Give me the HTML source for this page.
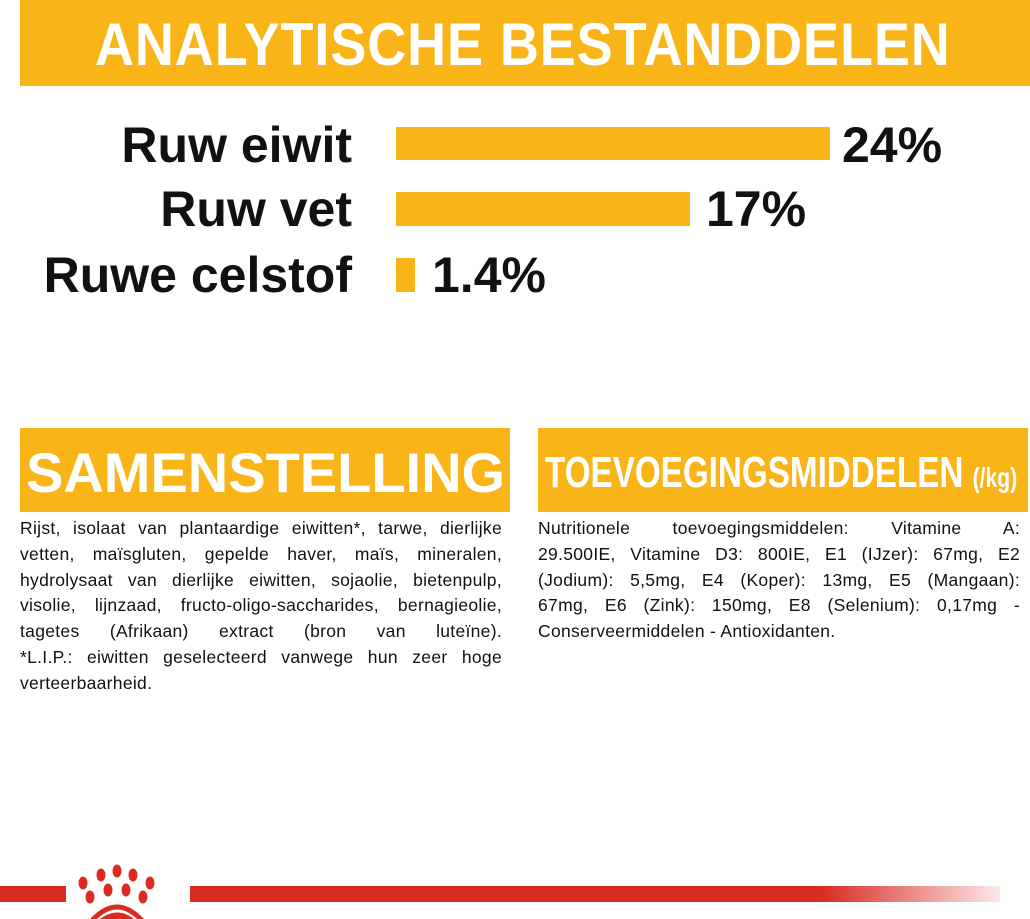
<!DOCTYPE html>
<html><head><meta charset="utf-8"><style>
body{margin:0;width:1030px;height:919px;background:#fff;position:relative;overflow:hidden;font-family:"Liberation Sans",sans-serif}
.a{position:absolute}
.y{background:#f9b418}
.h{color:#fff;font-weight:bold;white-space:nowrap}
.l{font-weight:bold;font-size:50px;color:#111;text-align:right;width:352px;left:0;line-height:50px}
.p{font-weight:bold;font-size:50px;color:#111;line-height:50px}
.t{font-size:17.5px;line-height:25.8px;color:#111;letter-spacing:0.3px}
.t div{text-align:justify;text-align-last:justify;white-space:nowrap}
.t div.e{text-align-last:left}
</style></head><body>
<div class="a y" style="left:20px;top:0;width:1010px;height:86px"></div>
<div class="a h" style="left:95px;top:12px;font-size:60px;line-height:66px;letter-spacing:1px;transform:scaleX(0.90);transform-origin:left">ANALYTISCHE BESTANDDELEN</div>
<div class="a l" style="top:120px">Ruw eiwit</div>
<div class="a l" style="top:184px">Ruw vet</div>
<div class="a l" style="top:250px">Ruwe celstof</div>
<div class="a y" style="left:396px;top:127px;width:434px;height:33px"></div>
<div class="a y" style="left:396px;top:192px;width:294px;height:34px"></div>
<div class="a y" style="left:396px;top:258px;width:19px;height:34px"></div>
<div class="a p" style="left:842px;top:120px">24%</div>
<div class="a p" style="left:706px;top:184px">17%</div>
<div class="a p" style="left:432px;top:250px">1.4%</div>
<div class="a y" style="left:20px;top:428px;width:490px;height:84px"></div>
<div class="a h" style="left:26px;top:440px;font-size:56px;line-height:66px">SAMENSTELLING</div>
<div class="a y" style="left:538px;top:428px;width:490px;height:84px"></div>
<div class="a h" style="left:545px;top:448px;font-size:44px;line-height:50px;transform:scaleX(0.755);transform-origin:left">TOEVOEGINGSMIDDELEN <span style="font-size:28px">(/kg)</span></div>
<div class="a t" style="left:20px;top:516px;width:482px">
<div>Rijst, isolaat van plantaardige eiwitten*, tarwe, dierlijke</div>
<div>vetten, maïsgluten, gepelde haver, maïs, mineralen,</div>
<div>hydrolysaat van dierlijke eiwitten, sojaolie, bietenpulp,</div>
<div>visolie, lijnzaad, fructo-oligo-saccharides, bernagieolie,</div>
<div>tagetes (Afrikaan) extract (bron van luteïne).</div>
<div>*L.I.P.: eiwitten geselecteerd vanwege hun zeer hoge</div>
<div class="e">verteerbaarheid.</div>
</div>
<div class="a t" style="left:538px;top:516px;width:482px">
<div>Nutritionele toevoegingsmiddelen: Vitamine A:</div>
<div>29.500IE, Vitamine D3: 800IE, E1 (IJzer): 67mg, E2</div>
<div>(Jodium): 5,5mg, E4 (Koper): 13mg, E5 (Mangaan):</div>
<div>67mg, E6 (Zink): 150mg, E8 (Selenium): 0,17mg -</div>
<div class="e">Conserveermiddelen - Antioxidanten.</div>
</div>
<div class="a" style="left:0;top:886px;width:66px;height:16px;background:#d92b22"></div>
<div class="a" style="left:190px;top:886px;width:810px;height:16px;background:linear-gradient(to right,#d92b22 0,#d92b22 78%,rgba(217,43,34,0.1) 100%)"></div>
<svg class="a" style="left:70px;top:860px" width="116" height="59" viewBox="0 0 116 59">
<g fill="#d92b22">
<ellipse cx="13" cy="23" rx="4.5" ry="6.5"/><ellipse cx="31" cy="15" rx="4.5" ry="6.5"/><ellipse cx="47" cy="11" rx="4.5" ry="6.5"/><ellipse cx="63" cy="15" rx="4.5" ry="6.5"/><ellipse cx="80" cy="23" rx="4.5" ry="6.5"/>
<ellipse cx="20" cy="37" rx="4.5" ry="6.5"/><ellipse cx="38" cy="30" rx="4.5" ry="6.5"/><ellipse cx="56" cy="30" rx="4.5" ry="6.5"/><ellipse cx="73" cy="37" rx="4.5" ry="6.5"/>
<path d="M20 59 Q47 30 74 59 L67 59 Q47 40 27 59 Z"/>
<path d="M30 59 Q47 46 64 59 Z"/>
</g></svg>
</body></html>
